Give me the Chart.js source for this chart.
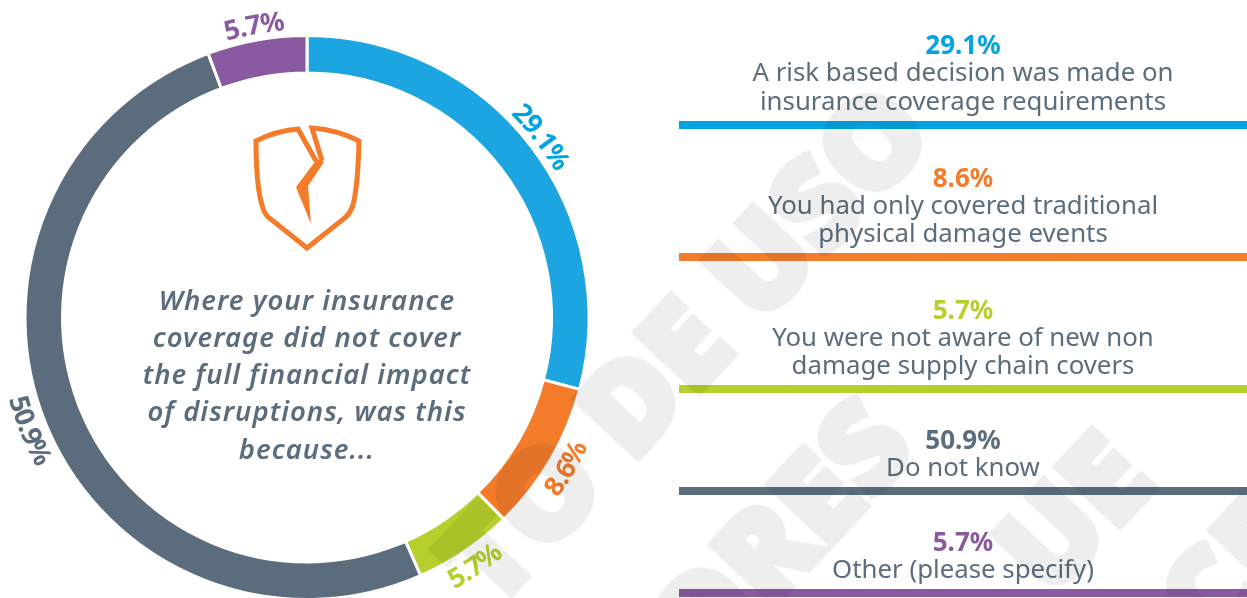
<!DOCTYPE html>
<html>
<head>
<meta charset="utf-8">
<title>Insurance coverage</title>
<script src="https://cdn.jsdelivr.net/npm/chart.js@4"></script>
<style>
html, body { margin: 0; padding: 0; background: #fff; }
#page { position: relative; width: 1247px; height: 598px; overflow: hidden; background: #fff; font-family: "Noto Sans", sans-serif; }
#ring { position: absolute; left: 0; top: 0; }
.line { position: absolute; left: 679px; width: 568px; text-align: center; white-space: nowrap; transform: translateY(-50%); }
.pct { font-size: 26px; font-weight: 700; }
.txt { font-size: 25.8px; color: #5b6d7c; }
.bar { position: absolute; left: 679px; width: 568px; height: 8px; }
.ask { position: absolute; left: 60px; width: 494px; text-align: center; white-space: nowrap; transform: translateY(-50%); font-size: 27.5px; font-weight: 600; font-style: italic; color: #5b6d7c; letter-spacing: 1px; }
#shield { position: absolute; left: 0; top: 0; }
.mark { position: absolute; font-family: "Open Sans", sans-serif; font-weight: 800; font-size: 122px; line-height: 1; color: #eeeeee; -webkit-text-stroke: 7px #eeeeee; white-space: nowrap; transform-origin: 0 100%; transform: rotate(-47deg); mix-blend-mode: multiply; }
</style>
</head>
<body>
<div id="page">
  <canvas id="ring" width="1247" height="640"></canvas>
  <svg id="shield" width="1247" height="598">
    <path d="M316 161 L298 129 Q275 131 256 141 Q256 185 262 205 Q264 213 268 217 L307 248 L346 217 Q351 212 353 205 Q358 185 359 141 Q338 130 312 128 L322 161" fill="none" stroke="#f47b2a" stroke-width="5"/>
    <path d="M317 159 L324 162 L308 186 L311 224 L296 187 Z" fill="#f47b2a"/>
  </svg>
  <div id="legend"></div>
  <div id="ask"></div>
  <div id="marks"></div>
</div>
<script>
const categories = [
    ['A risk based decision was made on', 'insurance coverage requirements'],
    ['You had only covered traditional', 'physical damage events'],
    ['You were not aware of new non', 'damage supply chain covers'],
    ['Do not know'],
    ['Other (please specify)']
];
const values = [29.1, 8.6, 5.7, 50.9, 5.7];
const ringColors = ['#1ca5e0', '#f47b2a', '#b8ce2b', '#5b6d7c', '#8a5aa0'];
const textColors = ['#00a4e0', '#f47b2a', '#b8ce2b', '#5b6d7c', '#8a5aa0'];
const question = ['Where your insurance', 'coverage did not cover', 'the full financial impact', 'of disruptions, was this', 'because...'];

// y of each legend row
const pctY = [44, 177, 309, 439, 541];
const lineY = [[71, 100], [204, 232], [336, 364], [466], [568]];
const barY = [121, 253, 385, 487, 589];
const askY = [298.5, 336, 373, 410, 448];

function pctText(v) {
    return v.toFixed(1) + '%';
}

const legend = document.getElementById('legend');
values.forEach((v, i) => {
    const p = document.createElement('div');
    p.className = 'line pct';
    p.style.top = pctY[i] + 'px';
    p.style.color = textColors[i];
    p.textContent = pctText(v);
    legend.appendChild(p);
    categories[i].forEach((t, j) => {
        const l = document.createElement('div');
        l.className = 'line txt';
        l.style.top = lineY[i][j] + 'px';
        l.textContent = t;
        legend.appendChild(l);
    });
    const b = document.createElement('div');
    b.className = 'bar';
    b.style.top = barY[i] + 'px';
    b.style.background = textColors[i];
    legend.appendChild(b);
});

const ask = document.getElementById('ask');
question.forEach((t, i) => {
    const l = document.createElement('div');
    l.className = 'ask';
    l.style.top = askY[i] + 'px';
    l.textContent = t;
    ask.appendChild(l);
});

// background stamp, only the parts that show
const stamps = [
    { text: 'TO DE USO', x: 505, y: 621 },
    { text: 'ORES', x: 713, y: 692 },
    { text: 'UE', x: 1061, y: 610 },
    { text: 'CE', x: 1224, y: 664 }
];
const marks = document.getElementById('marks');
stamps.forEach(s => {
    const m = document.createElement('div');
    m.className = 'mark';
    m.style.left = s.x + 'px';
    m.style.top = (s.y - 122) + 'px';
    m.textContent = s.text;
    marks.appendChild(m);
});

// percent labels bent round the outside of the ring
const curvedLabels = {
    id: 'curvedLabels',
    afterDatasetsDraw(chart) {
        const ctx = chart.ctx;
        const arcs = chart.getDatasetMeta(0).data;
        ctx.save();
        ctx.font = '700 27px "Noto Sans", sans-serif';
        ctx.textAlign = 'center';
        ctx.textBaseline = 'alphabetic';
        arcs.forEach((arc, i) => {
            const text = pctText(values[i]);
            const mid = (arc.startAngle + arc.endAngle) / 2;
            const clock = mid + Math.PI / 2;
            const bottom = Math.cos(clock) < 0;
            const r = arc.outerRadius + (bottom ? 27 : 6);
            const squeeze = 0.93;
            const total = ctx.measureText(text).width * squeeze;
            let run = -total / 2;
            ctx.fillStyle = textColors[i];
            for (const ch of text) {
                const w = ctx.measureText(ch).width * squeeze;
                const off = (run + w / 2) / r;
                const a = bottom ? mid - off : mid + off;
                ctx.save();
                ctx.translate(arc.x + Math.cos(a) * r, arc.y + Math.sin(a) * r);
                ctx.rotate(bottom ? a - Math.PI / 2 : a + Math.PI / 2);
                ctx.fillText(ch, 0, 0);
                ctx.restore();
                run += w;
            }
        });
        ctx.restore();
    }
};

new Chart(document.getElementById('ring').getContext('2d'), {
    type: 'doughnut',
    data: {
        labels: categories.map(c => c.join(' ')),
        datasets: [{
            data: values,
            backgroundColor: ringColors,
            borderColor: '#ffffff',
            borderWidth: 3
        }]
    },
    options: {
        responsive: false,
        animation: false,
        cutout: 244.5,
        layout: { padding: { left: 23.5, top: 34, right: 656.5, bottom: 39 } },
        plugins: { legend: { display: false }, tooltip: { enabled: false } }
    },
    plugins: [curvedLabels]
});
</script>
</body>
</html>
